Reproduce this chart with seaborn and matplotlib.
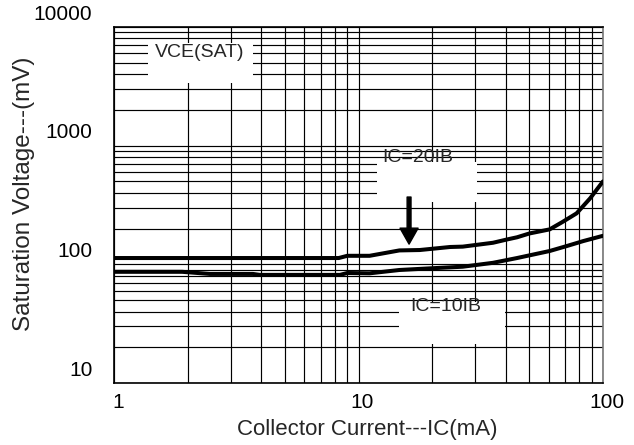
import numpy as np
import pandas as pd
import matplotlib
matplotlib.use('Agg')
import matplotlib.pyplot as plt
import seaborn as sns
from matplotlib.patches import Rectangle
from matplotlib.transforms import ScaledTranslation
from matplotlib.ticker import NullFormatter, LogLocator, FixedLocator

# ---- data ----
ic_20ib = [1, 2, 4, 8.3, 9.0, 11.1, 14.7, 17.8, 23.7, 26.7, 35.5, 40.5, 44.5, 50, 60.5, 68.4, 78, 88.6, 100]
vce_20ib = [113, 113, 113, 113, 118, 118, 131, 132, 140, 141, 152, 162, 169, 182, 197, 228, 269, 360, 500]

ic_10ib = [1, 1.9, 2.47, 3.7, 3.95, 8.4, 9.0, 11.1, 14.7, 19.6, 26.7, 35.5, 44.5, 60.5, 71, 83, 100]
vce_10ib = [86.5, 86.5, 83, 83, 81.5, 81.5, 84.5, 84, 89.6, 92.5, 95.5, 103, 113, 129.5, 142.5, 157, 174]

x_ticks = [1, 10, 100]
x_tick_labels = ['1', '10', '100']
y_ticks = [10, 100, 1000, 10000]
y_tick_labels = ['10', '100', '1000', '10000']

x_label = 'Collector Current---IC(mA)'
y_label = 'Saturation Voltage---(mV)'

df = pd.concat([
    pd.DataFrame({'ic': ic_20ib, 'vce': vce_20ib, 'series': 'IC=20IB'}),
    pd.DataFrame({'ic': ic_10ib, 'vce': vce_10ib, 'series': 'IC=10IB'}),
], ignore_index=True)

sns.set_theme(style='white')
plt.rcParams['font.family'] = ['Liberation Sans', 'DejaVu Sans']

W, H = 634, 445
fig = plt.figure(figsize=(W / 100, H / 100), dpi=100)
L, R, T, B = 114, 603, 27, 383
ax = fig.add_axes([L / W, 1 - B / H, (R - L) / W, (B - T) / H])
ax.set_xscale('log')
ax.set_yscale('log')

sns.lineplot(data=df, x='ic', y='vce', hue='series', palette={'IC=20IB': 'black', 'IC=10IB': 'black'},
             estimator=None, sort=False, legend=False, linewidth=2.9, ax=ax, zorder=3)

ax.set_xlim(1, 100)
ax.set_ylim(10, 10000)

ax.xaxis.set_major_locator(FixedLocator(x_ticks))
ax.yaxis.set_major_locator(FixedLocator(y_ticks))
ax.xaxis.set_minor_locator(LogLocator(base=10, subs=np.arange(2, 10)))
ax.yaxis.set_minor_locator(LogLocator(base=10, subs=np.arange(2, 10)))
ax.xaxis.set_minor_formatter(NullFormatter())
ax.yaxis.set_minor_formatter(NullFormatter())
ax.set_xticklabels(x_tick_labels)
ax.set_yticklabels(y_tick_labels)
ax.tick_params(which='both', length=0)
ax.tick_params(axis='y', labelsize=15, pad=15.5, colors='black')
ax.tick_params(axis='x', labelsize=15, pad=7, colors='black')

ax.grid(which='both', color='black', linewidth=0.85)
ax.set_axisbelow(True)
for s in ax.spines.values():
    s.set_color('black')
    s.set_linewidth(1.2)
ax.spines['right'].set_color('#777777')

# offset tick labels as in the reference
for t in ax.yaxis.get_major_ticks():
    t.label1.set_transform(t.label1.get_transform() + ScaledTranslation(0, 15 / 100, fig.dpi_scale_trans))
for t in ax.xaxis.get_major_ticks():
    t.label1.set_transform(t.label1.get_transform() + ScaledTranslation(4 / 100, 0, fig.dpi_scale_trans))

ax.set_xlabel('')
ax.set_ylabel('')
fig.text(367.5 / W, 1 - 429 / H, x_label, ha='center', va='center', fontsize=16)
fig.text(24 / W, 1 - 193.5 / H, y_label, ha='center', va='center', rotation=90, fontsize=17.5)

# white label boxes
ann_font = ['Liberation Sans', 'DejaVu Sans']
boxes = [((1.377, 3375), (3.70, 7330)), ((11.9, 335.5), (30.5, 729)), ((14.64, 21.3), (39.7, 48.2))]
for (x0, y0), (x1, y1) in boxes:
    ax.add_patch(Rectangle((x0, y0), x1 - x0, y1 - y0, facecolor='white', edgecolor='none', zorder=1))

ax.text(2.247, 6040, 'VCE(SAT)', ha='center', va='center', fontsize=14, family=ann_font, zorder=4)
ax.text(17.5, 788, 'IC=20IB', ha='center', va='center', fontsize=14, family=ann_font, zorder=4)
ax.text(22.8, 43.8, 'IC=10IB', ha='center', va='center', fontsize=14, family=ann_font, zorder=4)

ax.annotate('', xy=(16.1, 148), xytext=(16.1, 369),
            arrowprops=dict(facecolor='black', edgecolor='black', width=2.8, headwidth=13,
                            headlength=11.5, shrink=0), zorder=4)

fig.savefig('out.png', dpi=100)
